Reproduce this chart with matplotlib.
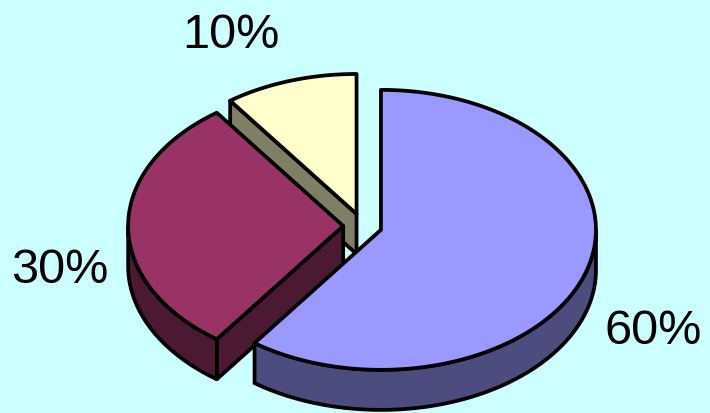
import numpy as np
import matplotlib.pyplot as plt
from matplotlib.patches import Polygon

# data
labels = ['60%', '30%', '10%']
values = [60, 30, 10]
top_colors = ['#9999FF', '#993366', '#FFFFCC']
side_colors = ['#4C4C7F', '#4C1933', '#7F7F66']

bg = '#CCFFFF'
explode = 0.09   # in radius units
depth = 0.286    # thickness in y units
lw = 2.7

fig = plt.figure(figsize=(7.10, 4.13), dpi=100, facecolor=bg)
ax = fig.add_axes([0, 0, 1, 1])
ax.set_facecolor(bg)
ax.set_xlim(-1.686, 1.616)
ax.set_ylim(-1.336, 1.614)
ax.axis('off')

# slice angle ranges, start at 12 o'clock going clockwise
tot = float(sum(values))
spans = []
a = 90.0
for v in values:
    b = a - 360.0 * v / tot
    spans.append((b, a))   # lo, hi (counterclockwise)
    a = b

def arc(cx, cy, lo, hi, n=200):
    t = np.radians(np.linspace(lo, hi, n))
    return np.column_stack([cx + np.cos(t), cy + np.sin(t)])

def poly(pts, color, z):
    ax.add_patch(Polygon(pts, closed=True, facecolor=color, edgecolor='black',
                         linewidth=lw, joinstyle='round', zorder=z))

# draw back slice first (yellow), then plum, then blue
order = [2, 1, 0]
z = 1
for i in order:
    lo, hi = spans[i]
    mid = np.radians((lo + hi) / 2)
    cx, cy = explode * np.cos(mid), explode * np.sin(mid)
    # radial faces
    for ang, vis in ((lo, np.cos(np.radians(lo)) > 0), (hi, np.cos(np.radians(hi)) < 0)):
        if vis:
            r = np.radians(ang)
            px, py = cx + np.cos(r), cy + np.sin(r)
            pts = [(cx, cy), (px, py), (px, py - depth), (cx, cy - depth)]
            poly(pts, side_colors[i], z)
            z += 1
    # outer curved side (front half only)
    for k in (-1, 0, 1):
        s = max(lo, 180 + 360 * k)
        e = min(hi, 360 + 360 * k)
        if e > s:
            up = arc(cx, cy, s, e)
            dn = up.copy()
            dn[:, 1] -= depth
            poly(np.vstack([up, dn[::-1]]), side_colors[i], z)
            z += 1
    # top face
    pts = np.vstack([[cx, cy], arc(cx, cy, lo, hi)])
    poly(pts, top_colors[i], z)
    z += 1

# labels (figure pixel positions: x center, baseline)
label_pos = [(653, 344), (60, 283), (231, 48)]
for lab, (px, py) in zip(labels, label_pos):
    fig.text(px / 710, 1 - py / 413, lab, ha='center', va='baseline',
             fontsize=35, family='Liberation Sans', color='black')

fig.savefig('out.png', dpi=100, facecolor=bg)
